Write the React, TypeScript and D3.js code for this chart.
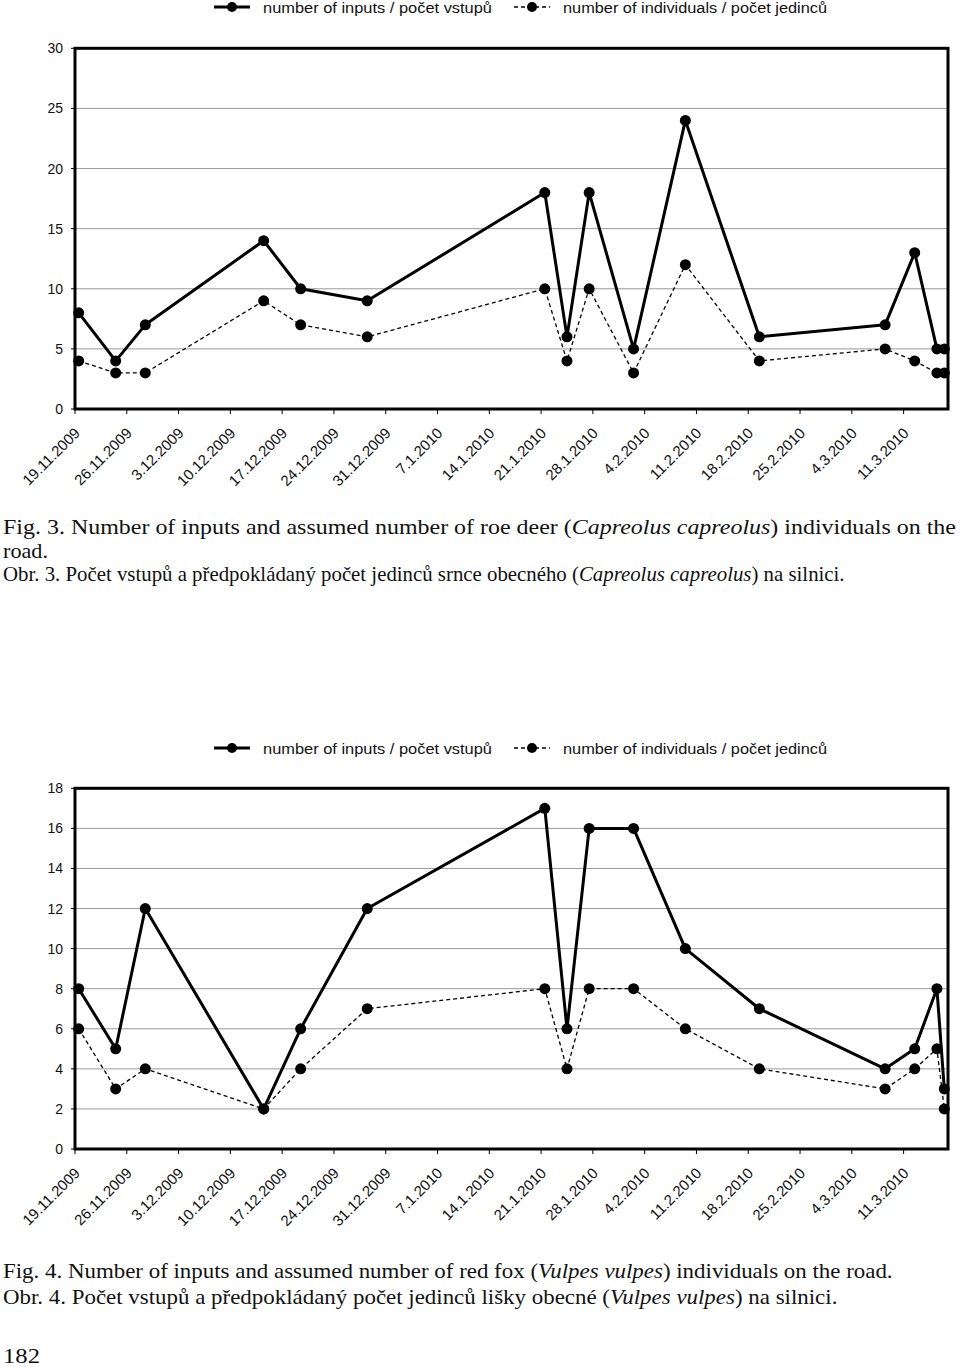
import React, {useEffect, useRef} from 'react';
import * as d3 from 'd3';

// observation days (same for both species)
const visitDates = [
  '2009-11-19', '2009-11-24', '2009-11-28', '2009-12-14', '2009-12-19',
  '2009-12-28', '2010-01-21', '2010-01-24', '2010-01-27', '2010-02-02',
  '2010-02-09', '2010-02-19', '2010-03-08', '2010-03-12', '2010-03-15',
  '2010-03-16',
];

// Fig. 3 - roe deer
const roeInputs = [8, 4, 7, 14, 10, 9, 18, 6, 18, 5, 24, 6, 7, 13, 5, 5];
const roeIndividuals = [4, 3, 3, 9, 7, 6, 10, 4, 10, 3, 12, 4, 5, 4, 3, 3];
const roeTicks = [0, 5, 10, 15, 20, 25, 30];

// Fig. 4 - red fox
const foxInputs = [8, 5, 12, 2, 6, 12, 17, 6, 16, 16, 10, 7, 4, 5, 8, 3];
const foxIndividuals = [6, 3, 4, 2, 4, 7, 8, 4, 8, 8, 6, 4, 3, 4, 5, 2];
const foxTicks = [0, 2, 4, 6, 8, 10, 12, 14, 16, 18];

const axisStart = '2009-11-19';
const axisEnd = '2010-03-17';
const legendLabels = [
  'number of inputs / počet vstupů',
  'number of individuals / počet jedinců',
];

// caption lines: [plain, italic, plain]
const captionLines = [
  ['Fig. 3. Number of inputs and assumed number of roe deer (', 'Capreolus capreolus', ') individuals on the'],
  ['road.', '', ''],
  ['Obr. 3. Počet vstupů a předpokládaný počet jedinců srnce obecného (', 'Capreolus capreolus', ') na silnici.'],
  ['Fig. 4. Number of inputs and assumed number of red fox (', 'Vulpes vulpes', ') individuals on the road.'],
  ['Obr. 4. Počet vstupů a předpokládaný počet jedinců lišky obecné (', 'Vulpes vulpes', ') na silnici.'],
  ['182', '', ''],
];
const captionSpots = [
  {x: 3, y: 534, w: 954},
  {x: 3, y: 557.5, w: 45},
  {x: 3, y: 581, w: 842},
  {x: 3, y: 1278, w: 890},
  {x: 3, y: 1304, w: 835},
  {x: 3, y: 1363, w: 37},
];

const parse = d3.utcParse('%Y-%m-%d');
const fmt = d3.utcFormat('%-d.%-m.%Y');
const sans = '"Liberation Sans", Arial, sans-serif';
const serif = '"Liberation Serif", "Times New Roman", serif';

const drawChart = (
  root: d3.Selection<SVGGElement, unknown, null, undefined>,
  top: number,
  bottom: number,
  legendY: number,
  ticks: number[],
  inputs: number[],
  individuals: number[]
) => {
  const left = 75,
    right = 948;
  const g = root.append('g');

  const x = d3
    .scaleUtc()
    .domain([parse(axisStart)!, parse(axisEnd)!])
    .range([left, right]);
  const y = d3
    .scaleLinear()
    .domain([0, d3.max(ticks)!])
    .range([bottom, top]);

  // points sit in the middle of their day
  const px = (d: string) => x(d3.utcHour.offset(parse(d)!, 12));

  // legend
  const items = [
    {label: legendLabels[0], x0: 214, dash: null, w: 3, len: 229},
    {label: legendLabels[1], x0: 514, dash: '4,3', w: 1.3, len: 264},
  ];
  items.forEach(it => {
    g.append('line')
      .attr('x1', it.x0)
      .attr('x2', it.x0 + 36)
      .attr('y1', legendY)
      .attr('y2', legendY)
      .attr('stroke', '#000')
      .attr('stroke-width', it.w)
      .attr('stroke-dasharray', it.dash);
    g.append('circle')
      .attr('cx', it.x0 + 18)
      .attr('cy', legendY)
      .attr('r', 5)
      .attr('fill', '#000');
    g.append('text')
      .attr('x', it.x0 + 49)
      .attr('y', legendY + 6)
      .attr('font-family', sans)
      .attr('font-size', 15.5)
      .attr('textLength', it.len)
      .attr('lengthAdjust', 'spacingAndGlyphs')
      .attr('fill', '#111')
      .text(it.label);
  });

  // gridlines
  g.selectAll('.grid')
    .data(ticks)
    .enter()
    .append('line')
    .attr('x1', left)
    .attr('x2', right)
    .attr('y1', d => y(d))
    .attr('y2', d => y(d))
    .attr('stroke', '#9a9a9a')
    .attr('stroke-width', 1);

  // y ticks + labels
  ticks.forEach(t => {
    g.append('line')
      .attr('x1', left - 4)
      .attr('x2', left)
      .attr('y1', y(t))
      .attr('y2', y(t))
      .attr('stroke', '#000');
    g.append('text')
      .attr('x', 63)
      .attr('y', y(t))
      .attr('dy', '0.36em')
      .attr('text-anchor', 'end')
      .attr('font-family', sans)
      .attr('font-size', 14)
      .attr('fill', '#111')
      .text(t);
  });

  // x ticks (weekly)
  const weeks = d3.utcDay.range(parse(axisStart)!, parse(axisEnd)!, 7);
  weeks.forEach(w => {
    g.append('line')
      .attr('x1', x(w))
      .attr('x2', x(w))
      .attr('y1', bottom)
      .attr('y2', bottom + 5)
      .attr('stroke', '#000');
    g.append('text')
      .attr('transform', `translate(${x(w) + 6},${bottom + 25}) rotate(-45)`)
      .attr('text-anchor', 'end')
      .attr('font-family', sans)
      .attr('font-size', 15)
      .attr('fill', '#111')
      .text(fmt(w));
  });

  // frame
  g.append('rect')
    .attr('x', left)
    .attr('y', top)
    .attr('width', right - left)
    .attr('height', bottom - top)
    .attr('fill', 'none')
    .attr('stroke', '#000')
    .attr('stroke-width', 3);

  const line = d3
    .line<number>()
    .x((_, i) => px(visitDates[i]))
    .y(d => y(d));

  g.append('path')
    .attr('d', line(individuals))
    .attr('fill', 'none')
    .attr('stroke', '#000')
    .attr('stroke-width', 1.3)
    .attr('stroke-dasharray', '4,3');
  g.append('path')
    .attr('d', line(inputs))
    .attr('fill', 'none')
    .attr('stroke', '#000')
    .attr('stroke-width', 3)
    .attr('stroke-linejoin', 'round');

  [individuals, inputs].forEach(series => {
    g.selectAll(null)
      .data(series)
      .enter()
      .append('circle')
      .attr('cx', (_, i) => px(visitDates[i]))
      .attr('cy', d => y(d))
      .attr('r', 5.5)
      .attr('fill', '#000');
  });
};

// condensed serif captions: measure natural width, then squeeze horizontally
const drawCaptions = (root: d3.Selection<SVGGElement, unknown, null, undefined>) => {
  captionLines.forEach((parts, i) => {
    const spot = captionSpots[i];
    const t = root
      .append('text')
      .attr('font-family', serif)
      .attr('font-size', 21)
      .attr('fill', '#111');
    t.append('tspan').text(parts[0]);
    if (parts[1]) t.append('tspan').attr('font-style', 'italic').text(parts[1]);
    if (parts[2]) t.append('tspan').text(parts[2]);
    const natural = (t.node() as SVGTextElement).getComputedTextLength() || spot.w;
    t.attr('transform', `translate(${spot.x},${spot.y}) scale(${spot.w / natural},1)`);
  });
};

const App = () => {
  const charts = useRef<SVGGElement>(null);

  useEffect(() => {
    const root = d3.select(charts.current!);
    root.selectAll('*').remove();
    drawChart(root, 48.3, 409, 7, roeTicks, roeInputs, roeIndividuals);
    drawChart(root, 788.3, 1149, 748, foxTicks, foxInputs, foxIndividuals);
    drawCaptions(root.append('g'));
  }, []);

  return (
    <svg
      width={960}
      height={1367}
      style={{position: 'absolute', left: 0, top: 0, background: '#fff'}}
    >
      <g ref={charts} />
    </svg>
  );
};

export default App;
